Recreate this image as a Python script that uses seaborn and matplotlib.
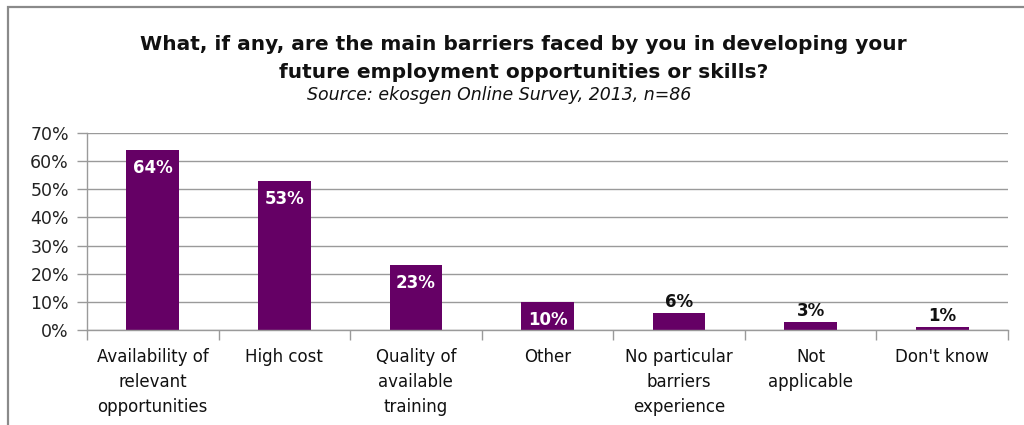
import matplotlib
matplotlib.use("Agg")
import matplotlib.pyplot as plt
import seaborn as sns
import pandas as pd
import numpy as np
from matplotlib.patches import Rectangle

categories = [
    "Availability of\nrelevant\nopportunities",
    "High cost",
    "Quality of\navailable\ntraining",
    "Other",
    "No particular\nbarriers\nexperience",
    "Not\napplicable",
    "Don't know",
]
shares = [64, 53, 23, 10, 6, 3, 1]
y_ticks = [0, 10, 20, 30, 40, 50, 60, 70]

title_line1 = "What, if any, are the main barriers faced by you in developing your"
title_line2 = "future employment opportunities or skills?"
source_line = "Source: ekosgen Online Survey, 2013, n=86"

bar_color = "#650065"
grid_color = "#9a9a9a"
font = ["DejaVu Sans"]

sns.set_theme(style="white")
plt.rcParams["font.family"] = font

df = pd.DataFrame({"barrier": categories, "share": shares})

fig = plt.figure(figsize=(10.24, 4.25), dpi=100)
ax = fig.add_axes([87 / 1024, 1 - 330 / 425, (1008 - 87) / 1024, (330 - 133) / 425])

sns.barplot(data=df, x="barrier", y="share", color=bar_color, width=0.4,
            saturation=1, ax=ax, edgecolor="none")

ax.set_xlim(-0.5, len(categories) - 0.5)
ax.set_ylim(0, 70)
ax.set_yticks(y_ticks)
ax.set_yticklabels([f"{v}%" for v in y_ticks], fontsize=12.5, color="#222222")
ax.yaxis.grid(True, color=grid_color, linewidth=1)
ax.set_axisbelow(True)
ax.set_xlabel("")
ax.set_ylabel("")

# category labels sit between boundary ticks
ax.set_xticks(range(len(categories)))
ax.set_xticklabels(categories, fontsize=12, color="#111111", linespacing=1.5)
ax.tick_params(axis="x", which="major", length=0, pad=13)
ax.set_xticks(np.arange(-0.5, len(categories), 1.0), minor=True)
ax.tick_params(axis="x", which="minor", length=7, width=1, color=grid_color, bottom=True)
ax.tick_params(axis="y", length=7, width=1, color=grid_color, left=True, pad=6)

for side in ["top", "right"]:
    ax.spines[side].set_visible(False)
for side in ["left", "bottom"]:
    ax.spines[side].set_color(grid_color)
    ax.spines[side].set_linewidth(1)

# value labels: inside tall bars, above short ones
for i, v in enumerate(shares):
    if v >= 10:
        ax.text(i, v - 3.2, f"{v}%", ha="center", va="top", color="white",
                fontsize=12, fontweight="bold")
    else:
        ax.text(i, v + 0.6, f"{v}%", ha="center", va="bottom", color="#111111",
                fontsize=12, fontweight="bold")

fig.text(0.511, 1 - 45 / 425, title_line1, ha="center", va="center",
         fontsize=14.5, fontweight="bold", color="#111111")
fig.text(0.511, 1 - 72 / 425, title_line2, ha="center", va="center",
         fontsize=14.5, fontweight="bold", color="#111111")
fig.text(0.487, 1 - 95 / 425, source_line, ha="center", va="center",
         fontsize=12.5, style="italic", color="#111111")

# surrounding frame (continues past the right and bottom edges)
fig.patches.append(Rectangle((8 / 1024, -0.1), 1.1, 1.1 - 7 / 425,
                             transform=fig.transFigure, fill=False,
                             edgecolor="#8a8a8a", linewidth=1.6))

fig.savefig("out.png", dpi=100, facecolor="white")
